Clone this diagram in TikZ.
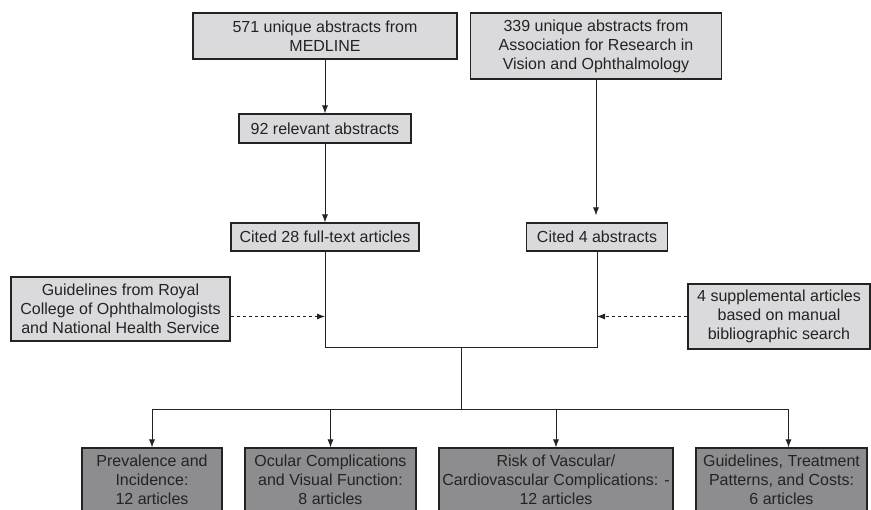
\documentclass[tikz,border=0pt]{standalone}
\usepackage{fontspec}
\setmainfont{Liberation Sans}
\usetikzlibrary{arrows.meta}

\definecolor{lightgraybox}{RGB}{218,218,220}
\definecolor{darkgraybox}{RGB}{141,141,144}
\definecolor{inkgray}{RGB}{35,35,35}

\tikzstyle{srcblock} = [rectangle, minimum height=28pt, inner xsep=2pt, inner ysep=1pt, align=center, text centered, draw=inkgray, line width=1.2pt, fill=lightgraybox, text=inkgray, font=\fontsize{16}{19}\selectfont]
\tikzstyle{topicblock} = [srcblock, minimum height=64pt, fill=darkgraybox]
\tikzstyle{link} = [->, line width=0.8pt, draw=inkgray]

\begin{document}
\begin{tikzpicture}[x=1pt, y=1pt, >={Latex[length=8pt,width=6pt]}]
\useasboundingbox (0,0) rectangle (871,-510);
%Custom blocks
\node (medline) [srcblock, minimum width=264pt, minimum height=46pt] at (325,-36) {571 unique abstracts from\\MEDLINE};
\node (arvo) [srcblock, minimum width=251pt, minimum height=66pt] at (596,-46) {339 unique abstracts from\\Association for Research in\\Vision and Ophthalmology};
\node (relevant) [srcblock, minimum width=172pt, minimum height=29pt] at (325,-128.5) {92 relevant abstracts};
\node (cited28) [srcblock, minimum width=188pt] at (325,-237) {Cited 28 full-text articles};
\node (cited4) [srcblock, minimum width=141pt] at (597,-237) {Cited 4 abstracts};
\node (guide) [srcblock, minimum width=219pt, minimum height=64pt] at (120.5,-309) {Guidelines from Royal\\College of Ophthalmologists\\and National Health Service};
\node (suppl) [srcblock, minimum width=182pt, minimum height=65pt] at (779,-316.5) {4 supplemental articles\\based on manual\\bibliographic search};

\node (prev) [topicblock, minimum width=140pt] at (152,-480) {Prevalence and\\Incidence:\\12 articles};
\node (ocular) [topicblock, minimum width=171pt] at (330.5,-480) {Ocular Complications\\and Visual Function:\\8 articles};
\node (vasc) [topicblock, minimum width=234pt] at (556,-480) {Risk of Vascular/\\Cardiovascular Complications: -\\12 articles};
\node (guidecost) [topicblock, minimum width=171pt] at (781.5,-480) {Guidelines, Treatment\\Patterns, and Costs:\\6 articles};

%Joins
\coordinate (joinL) at (325,-347);
\coordinate (joinR) at (597,-347);
\coordinate (joinC) at (461,-347);
\coordinate (split) at (461,-409);

%Arrows
\draw [link] (medline) -- (relevant);
\draw [link] (relevant) -- (cited28);
\draw [link, shorten >=7pt] (arvo.south) -- (arvo.south |- cited4.north);
\draw [line width=0.8pt, draw=inkgray] (cited28) -- (joinL) -- (joinR) -- (cited4);
\draw [link, dashed] (guide.east |- suppl.west) -- (suppl.west -| joinL);
\draw [link, dashed] (suppl.west) -- (suppl.west -| joinR);
\draw [line width=0.8pt, draw=inkgray] (joinC) -- (split);
\draw [link] (split) -| (prev);
\draw [link] (split) -| ([xshift=7pt]guidecost.north);
\draw [link] (ocular |- split) -- (ocular);
\draw [link] (vasc |- split) -- (vasc);
\end{tikzpicture}
\end{document}
